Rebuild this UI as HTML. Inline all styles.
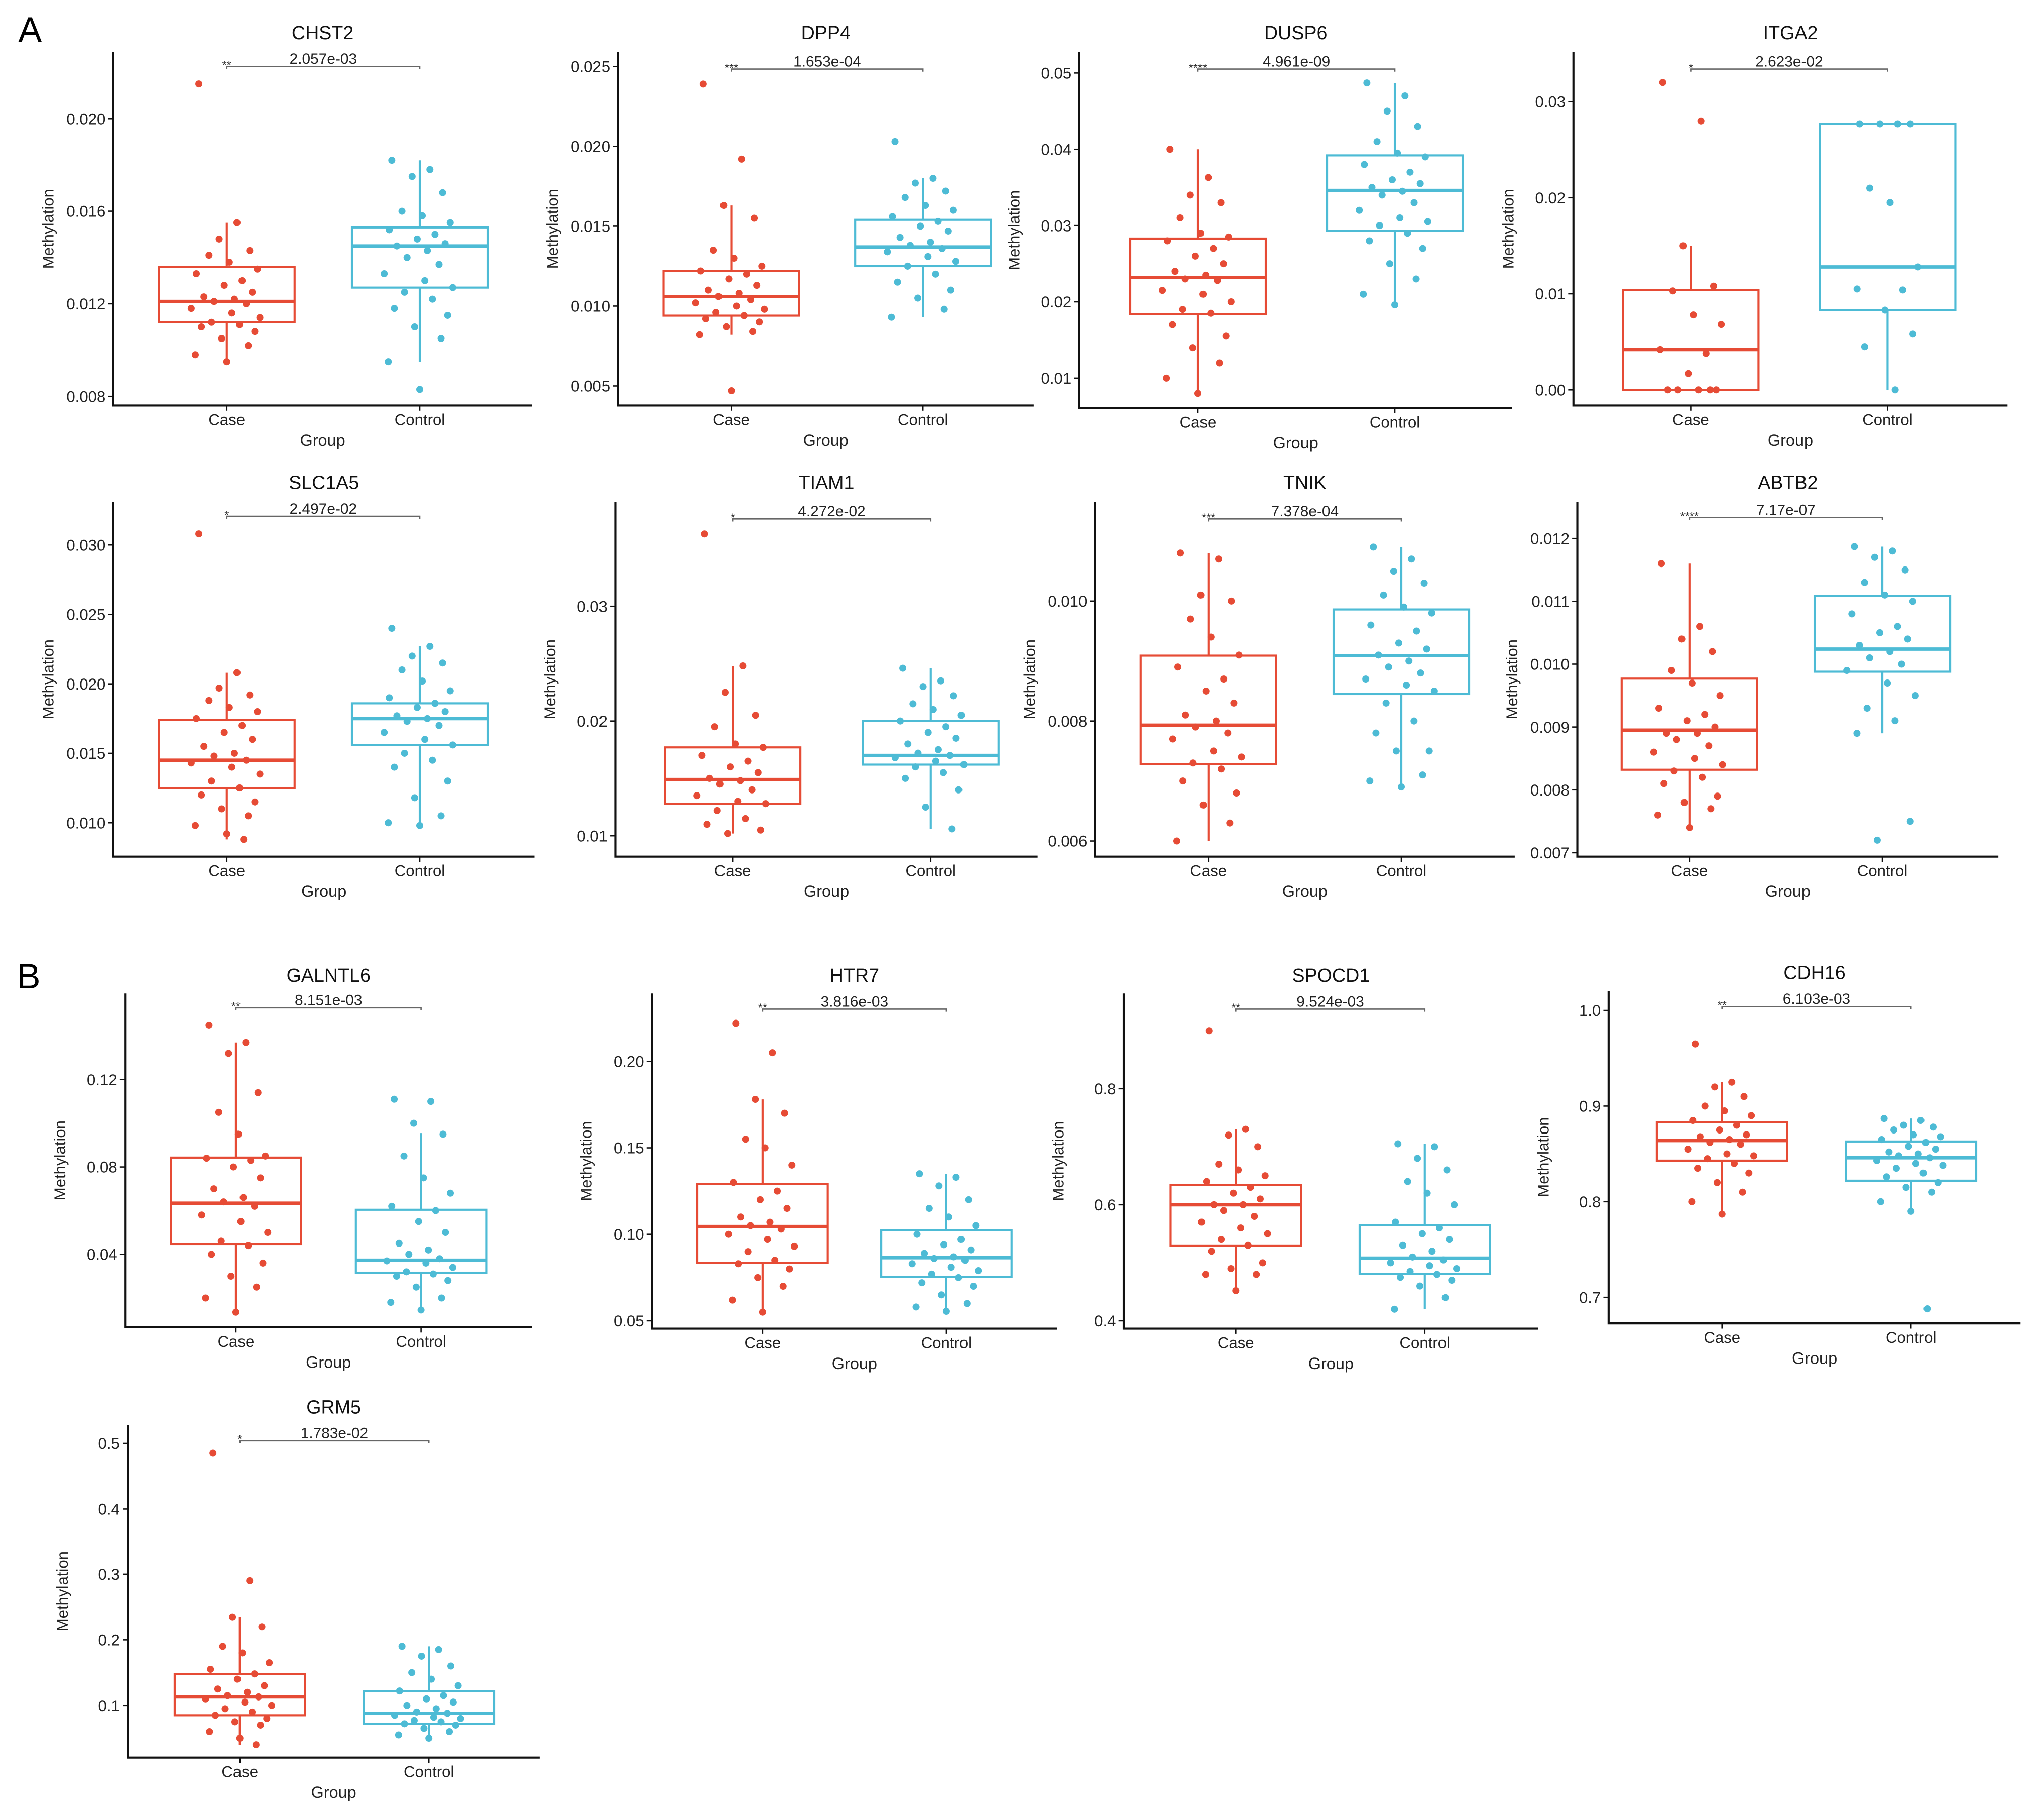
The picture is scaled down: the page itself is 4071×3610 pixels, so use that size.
<!DOCTYPE html>
<html><head><meta charset="utf-8">
<style>
html,body{margin:0;padding:0;background:#fff;}
svg{display:block;font-family:"Liberation Sans",Arial,sans-serif;}
</style></head>
<body>
<svg id="fig" width="4071" height="3610" viewBox="0 0 1568 1390.5" preserveAspectRatio="none" xmlns="http://www.w3.org/2000/svg">
<text x="14" y="32" font-size="27">A</text>
<text x="13" y="758" font-size="27">B</text>
</svg>
<script>
// ---- data ----
const titles = ["CHST2","DPP4","DUSP6","ITGA2","SLC1A5","TIAM1","TNIK","ABTB2","GALNTL6","HTR7","SPOCD1","CDH16","GRM5"];
const pvalues = ["2.057e-03","1.653e-04","4.961e-09","2.623e-02","2.497e-02","4.272e-02","7.378e-04","7.17e-07","8.151e-03","3.816e-03","9.524e-03","6.103e-03","1.783e-02"];
const stars = ["**","***","****","*","*","*","***","****","**","**","**","**","*"];
const tickValues = [
 [0.008,0.012,0.016,0.020],[0.005,0.010,0.015,0.020,0.025],[0.01,0.02,0.03,0.04,0.05],[0.00,0.01,0.02,0.03],
 [0.010,0.015,0.020,0.025,0.030],[0.01,0.02,0.03],[0.006,0.008,0.010],[0.007,0.008,0.009,0.010,0.011,0.012],
 [0.04,0.08,0.12],[0.05,0.10,0.15,0.20],[0.4,0.6,0.8],[0.7,0.8,0.9,1.0],[0.1,0.2,0.3,0.4,0.5]];
const tickLabels = [
 ["0.008","0.012","0.016","0.020"],["0.005","0.010","0.015","0.020","0.025"],["0.01","0.02","0.03","0.04","0.05"],["0.00","0.01","0.02","0.03"],
 ["0.010","0.015","0.020","0.025","0.030"],["0.01","0.02","0.03"],["0.006","0.008","0.010"],["0.007","0.008","0.009","0.010","0.011","0.012"],
 ["0.04","0.08","0.12"],["0.05","0.10","0.15","0.20"],["0.4","0.6","0.8"],["0.7","0.8","0.9","1.0"],["0.1","0.2","0.3","0.4","0.5"]];
// box stats: [whiskerLow, q1, median, q3, whiskerHigh]
const caseStats = [
 [0.0095,0.0112,0.0121,0.0136,0.0155],[0.0082,0.0094,0.0106,0.0122,0.0163],[0.008,0.0184,0.0232,0.0283,0.040],[0,0,0.0042,0.0104,0.015],
 [0.0088,0.0125,0.0145,0.0174,0.0208],[0.0102,0.0128,0.0149,0.0177,0.0248],[0.006,0.00728,0.00793,0.00909,0.0108],[0.0074,0.00832,0.00895,0.00977,0.0116],
 [0.0135,0.0445,0.0634,0.0843,0.137],[0.055,0.0835,0.1045,0.129,0.178],[0.452,0.529,0.600,0.634,0.730],[0.787,0.843,0.864,0.883,0.925],[0.04,0.085,0.113,0.148,0.235]];
const controlStats = [
 [0.0095,0.0127,0.0145,0.0153,0.0182],[0.0093,0.0125,0.0137,0.0154,0.0180],[0.0196,0.0293,0.0346,0.0392,0.0487],[0,0.0083,0.0128,0.0277,0.0277],
 [0.0098,0.0156,0.0175,0.0186,0.0227],[0.0106,0.0162,0.0170,0.0200,0.0246],[0.0069,0.00845,0.00909,0.00986,0.0109],[0.0089,0.00988,0.01024,0.01109,0.01187],
 [0.0145,0.0316,0.0373,0.0604,0.0955],[0.0555,0.0755,0.0865,0.1025,0.135],[0.420,0.481,0.508,0.565,0.705],[0.790,0.822,0.846,0.863,0.887],[0.05,0.072,0.088,0.122,0.19]];
const casePoints = [
 [0.0215,0.0155,0.0148,0.0143,0.0141,0.0138,0.0135,0.0133,0.013,0.0128,0.0125,0.0123,0.0122,0.0121,0.012,0.0118,0.0116,0.0114,0.0112,0.0111,0.011,0.0108,0.0105,0.0102,0.0098,0.0095],
 [0.0239,0.0192,0.0163,0.0155,0.0135,0.013,0.0125,0.0122,0.012,0.0117,0.0113,0.011,0.0108,0.0106,0.0104,0.0102,0.01,0.0098,0.0096,0.0094,0.0092,0.009,0.0087,0.0084,0.0082,0.0047],
 [0.040,0.0363,0.034,0.033,0.031,0.029,0.0285,0.028,0.027,0.026,0.025,0.024,0.0235,0.023,0.0228,0.0215,0.021,0.02,0.019,0.0185,0.017,0.0155,0.014,0.012,0.010,0.008],
 [0.032,0.028,0.015,0.0108,0.0103,0.0078,0.0068,0.0042,0.0038,0.0017,0.0,0.0,0.0,0.0,0.0],
 [0.0308,0.0208,0.0197,0.0192,0.0188,0.0183,0.018,0.0175,0.017,0.0165,0.016,0.0155,0.015,0.0148,0.0145,0.0143,0.014,0.0135,0.013,0.0125,0.012,0.0115,0.011,0.0105,0.0098,0.0092,0.0088],
 [0.0363,0.0248,0.0225,0.0205,0.0195,0.018,0.0177,0.017,0.0165,0.016,0.0155,0.015,0.0148,0.0145,0.014,0.0135,0.013,0.0128,0.0122,0.0115,0.011,0.0105,0.0102],
 [0.0108,0.0107,0.0101,0.01,0.0097,0.0094,0.0091,0.0089,0.0087,0.0085,0.0083,0.0081,0.008,0.0079,0.0078,0.0077,0.0075,0.0074,0.0073,0.0072,0.007,0.0068,0.0066,0.0063,0.006],
 [0.0116,0.0106,0.0104,0.0102,0.0099,0.0097,0.0095,0.0093,0.0092,0.0091,0.009,0.0089,0.0089,0.0088,0.0087,0.0086,0.0085,0.0084,0.0083,0.0082,0.0081,0.0079,0.0078,0.0077,0.0076,0.0074],
 [0.145,0.137,0.132,0.114,0.105,0.095,0.085,0.084,0.083,0.08,0.075,0.07,0.066,0.064,0.062,0.058,0.055,0.05,0.046,0.044,0.04,0.036,0.03,0.025,0.02,0.0135],
 [0.222,0.205,0.178,0.17,0.155,0.15,0.14,0.13,0.125,0.12,0.115,0.11,0.107,0.105,0.103,0.1,0.097,0.093,0.09,0.085,0.083,0.08,0.075,0.07,0.062,0.055],
 [0.9,0.73,0.72,0.7,0.67,0.66,0.65,0.64,0.63,0.62,0.61,0.6,0.6,0.59,0.58,0.57,0.56,0.55,0.54,0.53,0.52,0.5,0.49,0.48,0.48,0.452],
 [0.965,0.925,0.92,0.91,0.9,0.895,0.89,0.885,0.88,0.875,0.87,0.868,0.865,0.862,0.86,0.855,0.85,0.848,0.845,0.84,0.835,0.83,0.82,0.81,0.8,0.787],
 [0.485,0.29,0.235,0.22,0.19,0.18,0.165,0.155,0.148,0.14,0.13,0.125,0.12,0.115,0.113,0.11,0.105,0.1,0.095,0.09,0.085,0.08,0.075,0.07,0.06,0.05,0.04]];
const controlPoints = [
 [0.0182,0.0178,0.0175,0.0168,0.016,0.0158,0.0155,0.0152,0.015,0.0148,0.0146,0.0145,0.0143,0.014,0.0137,0.0133,0.013,0.0127,0.0125,0.0122,0.0118,0.0115,0.011,0.0105,0.0095,0.0083],
 [0.0203,0.018,0.0177,0.0172,0.0168,0.0163,0.016,0.0156,0.0153,0.015,0.0147,0.0143,0.014,0.0138,0.0136,0.0134,0.0131,0.0128,0.0125,0.012,0.0115,0.011,0.0105,0.0098,0.0093],
 [0.0487,0.047,0.045,0.043,0.041,0.0395,0.039,0.038,0.037,0.036,0.0355,0.035,0.0345,0.034,0.033,0.032,0.031,0.0305,0.03,0.029,0.028,0.027,0.025,0.023,0.021,0.0196],
 [0.0277,0.0277,0.0277,0.0277,0.021,0.0195,0.0128,0.0105,0.0104,0.0083,0.0058,0.0045,0.0],
 [0.024,0.0227,0.022,0.0215,0.021,0.0202,0.0195,0.019,0.0186,0.0183,0.018,0.0177,0.0175,0.0173,0.017,0.0165,0.016,0.0156,0.015,0.0145,0.014,0.013,0.0118,0.0105,0.01,0.0098],
 [0.0246,0.0235,0.023,0.0222,0.0215,0.021,0.0205,0.02,0.0195,0.019,0.0185,0.018,0.0175,0.0172,0.017,0.0168,0.0165,0.0162,0.016,0.0155,0.015,0.014,0.0125,0.0106],
 [0.0109,0.0107,0.0105,0.0103,0.0101,0.0099,0.0098,0.0096,0.0095,0.0093,0.0092,0.0091,0.009,0.0089,0.0088,0.0087,0.0086,0.0085,0.0083,0.008,0.0078,0.0075,0.0075,0.0071,0.007,0.0069],
 [0.01187,0.0118,0.0117,0.0115,0.0113,0.0111,0.011,0.0108,0.0106,0.0105,0.0104,0.0103,0.0102,0.0101,0.01,0.0099,0.0097,0.0095,0.0093,0.0091,0.0089,0.0075,0.0072],
 [0.111,0.110,0.1,0.095,0.085,0.075,0.068,0.062,0.06,0.055,0.05,0.045,0.042,0.04,0.038,0.037,0.036,0.034,0.032,0.031,0.03,0.028,0.025,0.02,0.018,0.0145],
 [0.135,0.133,0.128,0.12,0.115,0.11,0.105,0.1,0.097,0.094,0.091,0.089,0.087,0.086,0.085,0.083,0.081,0.079,0.077,0.075,0.072,0.07,0.065,0.06,0.058,0.0555],
 [0.705,0.7,0.68,0.66,0.64,0.62,0.6,0.57,0.56,0.55,0.54,0.53,0.52,0.51,0.505,0.5,0.495,0.49,0.485,0.48,0.475,0.47,0.46,0.44,0.42],
 [0.887,0.885,0.88,0.878,0.875,0.87,0.868,0.865,0.862,0.858,0.855,0.852,0.85,0.848,0.846,0.843,0.84,0.838,0.835,0.83,0.826,0.82,0.815,0.81,0.8,0.79,0.688],
 [0.19,0.185,0.175,0.16,0.15,0.14,0.13,0.122,0.115,0.11,0.105,0.1,0.095,0.09,0.088,0.085,0.082,0.08,0.077,0.075,0.072,0.07,0.065,0.06,0.055,0.05]];

// ---- layout (pixel geometry in viewBox units) ----
// [axisLeft, axisTop, axisBottom, axisRight, caseX, controlX, firstTickPx, lastTickPx, sigY, titleY]
const layout = [
 [87,40,311,408,174,322,304,91,51,25],
 [474,40,311,793,561,708,296,51,53,25],
 [828,40,313,1160,919,1070,290,56,53,25],
 [1207,40,311,1540,1297,1448,299,78,53,25],
 [87,385,657,410,174,322,631,418,396,370],
 [472,385,657,796,562,714,641,465,398,370],
 [840,385,657,1162,927,1075,645,461,398,370],
 [1210,385,657,1533,1296,1444,654,413,397,370],
 [96,762,1018,408,181,323,962,828,773,748],
 [500,762,1019,811,585,726,1013,814,774,748],
 [862,762,1019,1180,948,1093,1013,835,774,748],
 [1234,760,1015,1550,1321,1466,995,775,772,746],
 [98,1093,1348,414,184,329,1308,1107,1105,1079]];

const NS = "http://www.w3.org/2000/svg";
const svg = document.getElementById("fig");
const RED = "#E64B35", CYAN = "#4DBBD5";
function mk(tag, attrs, parent){
  const e = document.createElementNS(NS, tag);
  for (const k in attrs) e.setAttribute(k, attrs[k]);
  (parent||svg).appendChild(e);
  return e;
}
const jit = [-0.55,0.2,-0.15,0.45,-0.35,0.05,0.6,-0.6,0.3,-0.05,0.5,-0.45,0.15,-0.25,0.38,-0.7,0.1,0.65,-0.3,0.25,-0.5,0.55,-0.1,0.42,-0.62,0.0,0.33];

titles.forEach((t, i) => {
  const [L, T, B, R, cx, kx, p1, p2, sigY, titleY] = layout[i];
  const tv = tickValues[i];
  const v1 = tv[0], v2 = tv[tv.length-1];
  const y = v => p1 + (v - v1) * (p2 - p1) / (v2 - v1);
  const g = mk("g", {});
  
  

  const title = mk("text", {x:(L+R)/2, y:titleY+5, "font-size":14.5, "text-anchor":"middle", fill:"#111"}, g);
  title.textContent = t;
  
  

  const ax = mk("path", {d:`M${L},${T} V${B} H${R}`, stroke:"#111", "stroke-width":1.6, fill:"none"}, g);
  
  

  tv.forEach((v, j) => {
    const yy = y(v);
    mk("line", {x1:L-4, x2:L, y1:yy, y2:yy, stroke:"#111", "stroke-width":1}, g);
    const lab = mk("text", {x:L-6, y:yy+4.3, "font-size":12, "text-anchor":"end", fill:"#222"}, g);
    lab.textContent = tickLabels[i][j];
    
    
  });
  [[cx,"Case"],[kx,"Control"]].forEach(([x, s]) => {
    mk("line", {x1:x, x2:x, y1:B, y2:B+4, stroke:"#111", "stroke-width":1}, g);
    const lab = mk("text", {x:x, y:B+15, "font-size":12, "text-anchor":"middle", fill:"#222"}, g);
    lab.textContent = s;
    
    
  });
  const xt = mk("text", {x:(L+R)/2, y:B+31, "font-size":12.5, "text-anchor":"middle", fill:"#222"}, g);
  xt.textContent = "Group";
  
  
  const ym = (T+B)/2, yx = L-46;
  const yt = mk("text", {x:yx, y:ym, "font-size":12, "text-anchor":"middle", fill:"#222", transform:`rotate(-90 ${yx} ${ym})`}, g);
  yt.textContent = "Methylation";
  
  

  const sb = mk("path", {d:`M${cx},${sigY+2} V${sigY} H${kx} V${sigY+2}`, stroke:"#666", "stroke-width":1, fill:"none"}, g);
  
  
  const st = mk("text", {x:cx, y:sigY+2, "font-size":9, "text-anchor":"middle", fill:"#333"}, g);
  st.textContent = stars[i];
  
  
  const pv = mk("text", {x:(cx+kx)/2, y:sigY-2, "font-size":11.5, "text-anchor":"middle", fill:"#222"}, g);
  pv.textContent = pvalues[i];
  
  

  const hw = i >= 8 ? 50 : 52;
  [[cx, caseStats[i], casePoints[i], RED, "case"], [kx, controlStats[i], controlPoints[i], CYAN, "control"]].forEach(([x, s, pts, col, nm]) => {
    const wl = mk("line", {x1:x, x2:x, y1:y(s[0]), y2:y(s[1]), stroke:col, "stroke-width":1.6}, g);
    
    
    const wh = mk("line", {x1:x, x2:x, y1:y(s[3]), y2:y(s[4]), stroke:col, "stroke-width":1.6}, g);
    
    
    const bx = mk("rect", {x:x-hw, y:y(s[3]), width:2*hw, height:Math.max(0.5, y(s[1])-y(s[3])), fill:"none", stroke:col, "stroke-width":1.6}, g);
    
    
    const md = mk("line", {x1:x-hw, x2:x+hw, y1:y(s[2]), y2:y(s[2]), stroke:col, "stroke-width":2.6}, g);
    
    
    pts.forEach((v, k) => {
      const c = mk("circle", {cx:x + jit[k % jit.length]*hw*0.75, cy:y(v), r:2.7, fill:col}, g);
      
      
    });
  });
});
</script>
</body></html>
